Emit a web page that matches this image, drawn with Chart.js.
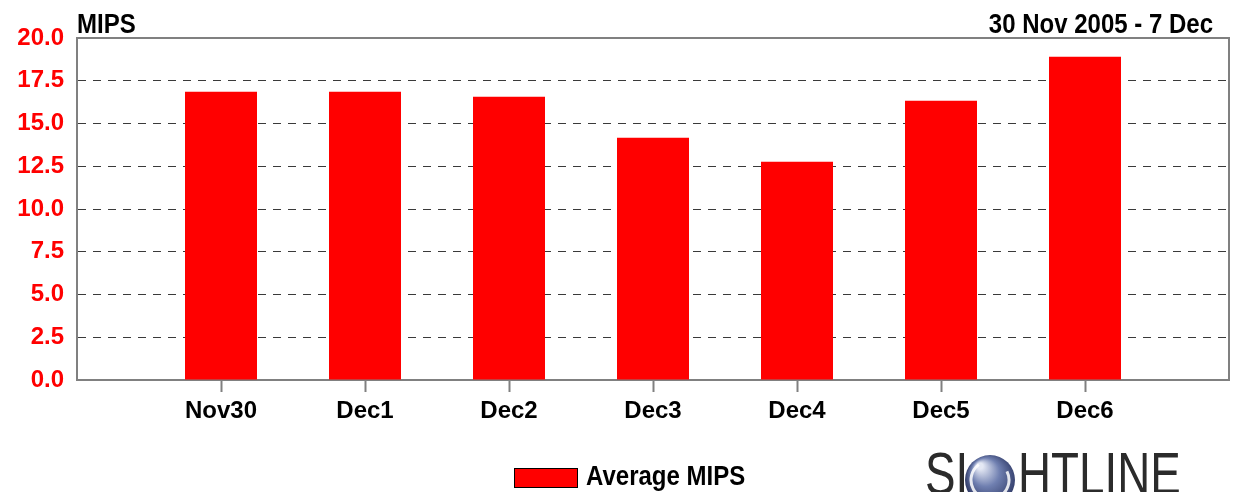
<!DOCTYPE html>
<html>
<head>
<meta charset="utf-8">
<script src="https://cdn.jsdelivr.net/npm/chart.js@4/dist/chart.umd.min.js"></script>
<style>
  html, body { margin: 0; padding: 0; background: #fff; }
  canvas { display: block; }
</style>
</head>
<body>
<canvas id="mipsChart" width="1237" height="492"></canvas>
<script>
// ===== DATA =====
const categories = ["Nov30", "Dec1", "Dec2", "Dec3", "Dec4", "Dec5", "Dec6"];
const avgMips = [16.86, 16.86, 16.57, 14.17, 12.76, 16.33, 18.91];
const yTicks = [0, 2.5, 5, 7.5, 10, 12.5, 15, 17.5, 20];
const seriesName = "Average MIPS";
const unitTitle = "MIPS";
const rangeTitle = "30 Nov 2005 - 7 Dec";

// one empty slot on each side, like the original
const labels = ["", ...categories, ""];
const values = [null, ...avgMips, null];

const gray = "#808080";
const FONT = "'Liberation Sans', Arial, sans-serif";

// ===== TITLES, FRAME, LEGEND, LOGO =====
const decor = {
    id: "decor",
    afterDraw(chart) {
        const ctx = chart.ctx;
        const a = chart.chartArea;
        ctx.save();

        // frame top + right
        ctx.strokeStyle = gray;
        ctx.lineWidth = 2;
        ctx.beginPath();
        ctx.moveTo(a.left, a.top);
        ctx.lineTo(a.right, a.top);
        ctx.lineTo(a.right, a.bottom);
        ctx.stroke();

        // titles (a bit taller than wide, like the original)
        ctx.fillStyle = "#000";
        ctx.font = "bold 24px " + FONT;
        ctx.textBaseline = "alphabetic";
        ctx.save();
        ctx.scale(1, 1.15);
        ctx.textAlign = "left";
        ctx.fillText(unitTitle, a.left, 33 / 1.15);
        ctx.textAlign = "right";
        ctx.fillText(rangeTitle, 1213, 33 / 1.15);
        ctx.restore();

        // legend
        ctx.fillStyle = "#ff0000";
        ctx.fillRect(514, 468, 63, 19);
        ctx.strokeStyle = "#000";
        ctx.lineWidth = 1;
        ctx.strokeRect(514.5, 468.5, 63, 19);
        ctx.fillStyle = "#000";
        ctx.textAlign = "left";
        ctx.save();
        ctx.scale(1, 1.12);
        ctx.fillText(chart.data.datasets[0].label, 586, 485 / 1.12);
        ctx.restore();

        // logo
        ctx.fillStyle = "#2b2b2b";
        ctx.font = "52px " + FONT;
        ctx.save();
        ctx.scale(0.88, 1.15);
        const sy = 494 / 1.15;
        ctx.fillText("SI", 925 / 0.88, sy);
        ctx.fillText("HTLINE", 1018 / 0.88, sy);
        ctx.restore();
        const g = ctx.createRadialGradient(980, 466, 3, 992, 480, 28);
        g.addColorStop(0, "#e4e8f4");
        g.addColorStop(0.45, "#6f7fb0");
        g.addColorStop(1, "#28325e");
        ctx.fillStyle = g;
        ctx.beginPath();
        ctx.arc(990, 480, 25, 0, Math.PI * 2);
        ctx.fill();
        ctx.strokeStyle = "rgba(255,255,255,0.85)";
        ctx.lineWidth = 3;
        ctx.beginPath();
        ctx.arc(990, 480, 19, -Math.PI * 0.15, Math.PI * 1.3);
        ctx.stroke();

        ctx.restore();
    }
};

new Chart(document.getElementById("mipsChart").getContext("2d"), {
    type: "bar",
    data: {
        labels: labels,
        datasets: [{
            label: seriesName,
            data: values,
            backgroundColor: "#ff0000",
            borderWidth: 0,
            barPercentage: 0.5,
            categoryPercentage: 1.0
        }]
    },
    options: {
        responsive: false,
        animation: false,
        layout: { padding: { top: 38, right: 8, left: 0, bottom: 0 } },
        plugins: {
            legend: { display: false },
            tooltip: { enabled: false }
        },
        scales: {
            x: {
                offset: false,
                grid: {
                    offset: false,
                    drawOnChartArea: false,
                    tickLength: 12,
                    tickWidth: 2,
                    color: c => (c.index === 0 || c.index === labels.length - 1) ? "rgba(0,0,0,0)" : gray
                },
                border: { color: gray, width: 2 },
                ticks: {
                    color: "#000",
                    font: { family: FONT, size: 24, weight: "bold" },
                    padding: 5,
                    autoSkip: false,
                    maxRotation: 0
                },
                afterFit: s => { s.height = 112; }
            },
            y: {
                min: 0,
                max: 20,
                afterBuildTicks: s => { s.ticks = yTicks.map(v => ({ value: v })); },
                grid: {
                    color: "#3a3a3a",
                    lineWidth: 1,
                    drawTicks: false
                },
                border: { color: gray, width: 2, dash: [8, 7] },
                ticks: {
                    color: "#ff0000",
                    font: { family: FONT, size: 24, weight: "bold" },
                    padding: 13,
                    callback: v => Number(v).toFixed(1)
                },
                afterFit: s => { s.width = 77; }
            }
        }
    },
    plugins: [decor]
});
</script>
</body>
</html>
